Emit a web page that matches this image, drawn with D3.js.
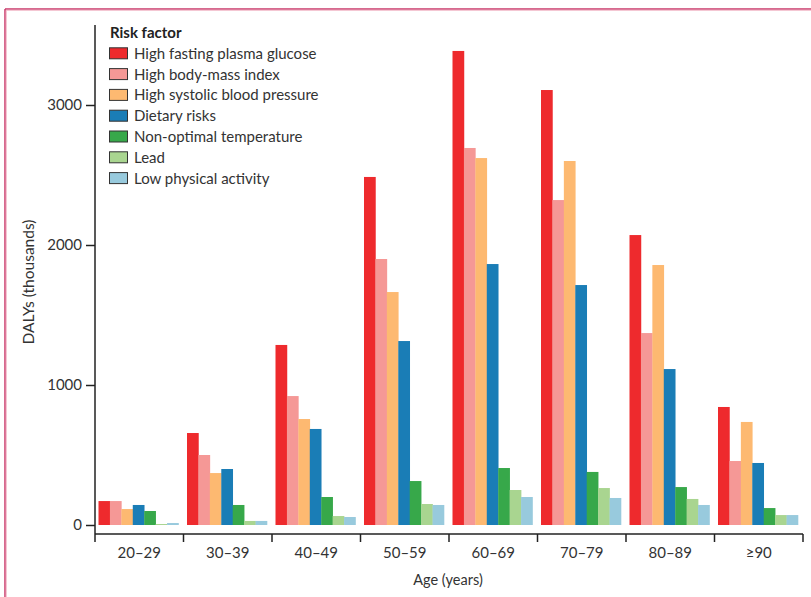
<!DOCTYPE html>
<html>
<head>
<meta charset="utf-8">
<script src="https://cdn.jsdelivr.net/npm/d3@7/dist/d3.min.js"></script>
<style>
  html, body { margin: 0; padding: 0; background: #fff; }
  svg { display: block; font-family: Lato, "Open Sans", sans-serif; }
</style>
</head>
<body>
<svg id="chart" width="811" height="597"></svg>
<script>
// Age groups on the x axis
const ageGroups = ["20–29", "30–39", "40–49", "50–59", "60–69", "70–79", "80–89", "≥90"];

// Risk factors (legend order) and their fill colours
const riskFactors = [
  "High fasting plasma glucose",
  "High body-mass index",
  "High systolic blood pressure",
  "Dietary risks",
  "Non-optimal temperature",
  "Lead",
  "Low physical activity"
];
const riskColors = ["#ee2a2d", "#f59896", "#fdb971", "#1a7db6", "#37a84a", "#a9d590", "#98cadd"];

// DALYs (thousands) per risk factor, one value per age group
const highFastingGlucose = [171, 657, 1286, 2486, 3386, 3107, 2071, 843];
const highBMI            = [171, 500, 921, 1900, 2693, 2321, 1371, 457];
const highSystolicBP     = [114, 371, 757, 1664, 2621, 2600, 1857, 736];
const dietaryRisks       = [143, 400, 686, 1314, 1864, 1714, 1114, 443];
const nonOptimalTemp     = [100, 143, 200, 314, 407, 379, 271, 121];
const lead               = [7, 29, 64, 150, 250, 264, 186, 71];
const lowPhysActivity    = [14, 29, 57, 143, 200, 193, 143, 71];

// Y axis ticks
const yTicks = [0, 1000, 2000, 3000];

const seriesValues = [highFastingGlucose, highBMI, highSystolicBP, dietaryRisks,
                      nonOptimalTemp, lead, lowPhysActivity];

const svg = d3.select("#chart");
const textColor = "#333";

// Page frame: rule along the top and the left edge
svg.append("line").attr("x1", 5).attr("x2", 811).attr("y1", 9).attr("y2", 9)
  .attr("stroke", "#c8396a").attr("stroke-width", 1.5);
svg.append("line").attr("x1", 5).attr("x2", 811).attr("y1", 10.3).attr("y2", 10.3)
  .attr("stroke", "#f2b9c9").attr("stroke-width", 1);
svg.append("line").attr("x1", 5).attr("x2", 5).attr("y1", 9).attr("y2", 597)
  .attr("stroke", "#c8396a").attr("stroke-width", 1.5);
svg.append("line").attr("x1", 6.3).attr("x2", 6.3).attr("y1", 10).attr("y2", 597)
  .attr("stroke", "#f2b9c9").attr("stroke-width", 1);

// Scales
const x0 = d3.scaleBand().domain(ageGroups).range([95, 803]).padding(0);
const x1 = d3.scaleBand().domain(riskFactors).range([3.5, 83.5]).padding(0);
const y = d3.scaleLinear().domain([0, 3000]).range([525, 105]);
const yTop = y.invert(25);
const axisBaseY = 534;

const color = d3.scaleOrdinal().domain(riskFactors).range(riskColors);

// Bars
const rows = ageGroups.map((g, i) => ({
  group: g,
  values: riskFactors.map((r, k) => ({ key: r, value: seriesValues[k][i] }))
}));

svg.append("g")
  .selectAll("g")
  .data(rows)
  .join("g")
  .attr("transform", d => `translate(${x0(d.group)},0)`)
  .selectAll("rect")
  .data(d => d.values)
  .join("rect")
  .attr("x", d => x1(d.key))
  .attr("width", x1.bandwidth() + 0.3)
  .attr("y", d => y(d.value))
  .attr("height", d => y(0) - y(d.value))
  .attr("fill", d => color(d.key));

// Y axis: spine from top to the x-axis line, ticks pointing left
const yAxisG = svg.append("g").attr("transform", "translate(95,0)");
yAxisG.append("line").attr("x1", 0).attr("x2", 0).attr("y1", y(yTop)).attr("y2", axisBaseY)
  .attr("stroke", "#222").attr("stroke-width", 1.5);
yAxisG.call(d3.axisLeft(y).tickValues(yTicks).tickFormat(d3.format("d")).tickSize(9).tickPadding(4))
  .call(g => g.select(".domain").remove())
  .call(g => g.selectAll(".tick line").attr("stroke", "#222").attr("stroke-width", 1.5))
  .call(g => g.selectAll(".tick text").attr("fill", textColor)
    .style("font-size", "15px").style("font-family", "Lato, sans-serif"));

// X axis: line with boundary ticks between age groups
const xAxisG = svg.append("g").attr("transform", `translate(0,${axisBaseY})`);
xAxisG.append("line").attr("x1", 95).attr("x2", 803).attr("y1", 0).attr("y2", 0)
  .attr("stroke", "#222").attr("stroke-width", 1.5);
const boundaries = ageGroups.map(g => x0(g)).concat([x0.range()[1]]);
xAxisG.selectAll("line.bound")
  .data(boundaries)
  .join("line")
  .attr("class", "bound")
  .attr("x1", d => d).attr("x2", d => d)
  .attr("y1", 0).attr("y2", 8)
  .attr("stroke", "#222").attr("stroke-width", 1.5);
xAxisG.selectAll("text.age")
  .data(ageGroups)
  .join("text")
  .attr("class", "age")
  .attr("x", d => x0(d) + x0.bandwidth() / 2)
  .attr("y", 24)
  .attr("text-anchor", "middle")
  .attr("fill", textColor)
  .style("font-size", "15px")
  .text(d => d);

// Axis titles
svg.append("text")
  .attr("x", 448).attr("y", 585)
  .attr("text-anchor", "middle")
  .attr("fill", textColor)
  .style("font-size", "14.5px")
  .text("Age (years)");

svg.append("text")
  .attr("transform", "translate(33.5,282) rotate(-90)")
  .attr("text-anchor", "middle")
  .attr("fill", textColor)
  .style("font-size", "15.5px")
  .text("DALYs (thousands)");

// Legend
const legend = svg.append("g").attr("transform", "translate(109,0)");
legend.append("text")
  .attr("x", 1).attr("y", 38)
  .attr("fill", "#222")
  .style("font-size", "15px")
  .style("font-weight", "bold")
  .text("Risk factor");
const items = legend.selectAll("g.item")
  .data(riskFactors)
  .join("g")
  .attr("class", "item")
  .attr("transform", (d, i) => `translate(0,${53.3 + i * 20.8})`);
items.append("rect")
  .attr("x", 0.5).attr("y", -5.5)
  .attr("width", 18).attr("height", 11)
  .attr("fill", d => color(d))
  .attr("stroke", "#333").attr("stroke-width", 1);
items.append("text")
  .attr("x", 25).attr("y", 5.5)
  .attr("fill", textColor)
  .style("font-size", "15px")
  .text(d => d);
</script>
</body>
</html>
